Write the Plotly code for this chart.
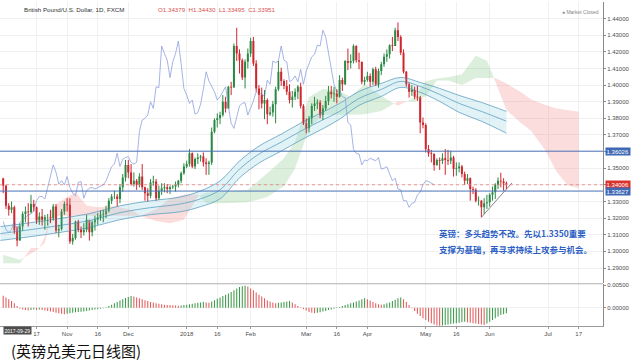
import pandas as pd
import plotly.graph_objects as go

# ---------------- data ----------------
START = "2017-09-29"          # first visible daily bar (weekday index 0)
first_open = 1.3438

closes = [1.3395, 1.3275, 1.3250, 1.3265, 1.3125, 1.3065, 1.3150, 1.3225, 1.3240, 1.3235,
          1.3285, 1.3265, 1.3185, 1.3210, 1.3190, 1.3205, 1.3205, 1.3200, 1.3270, 1.3125,
          1.3135, 1.3240, 1.3285, 1.3280, 1.3060, 1.3080, 1.3180, 1.3130, 1.3115, 1.3130,
          1.3190, 1.3115, 1.3175, 1.3190, 1.3205, 1.3220, 1.3225, 1.3245, 1.3305, 1.3330,
          1.3330, 1.3315, 1.3385, 1.3445, 1.3520, 1.3475, 1.3405, 1.3425, 1.3400, 1.3450,
          1.3385, 1.3350, 1.3335, 1.3415, 1.3420, 1.3320, 1.3365, 1.3380, 1.3385, 1.3375,
          1.3385, 1.3390, 1.3400, 1.3425, 1.3470, 1.3510, 1.3525, 1.3590, 1.3510, 1.3555,
          1.3565, 1.3570, 1.3535, 1.3525, 1.3535, 1.3720, 1.3790, 1.3800, 1.3820, 1.3900,
          1.3860, 1.3990, 1.3985, 1.4235, 1.4190, 1.4150, 1.4045, 1.4140, 1.4190, 1.4265,
          1.4130, 1.3980, 1.3940, 1.3890, 1.3910, 1.3825, 1.3835, 1.3885, 1.3975, 1.4080,
          1.4025, 1.3995, 1.3960, 1.3910, 1.3930, 1.3960, 1.3990, 1.3875, 1.3770, 1.3740,
          1.3800, 1.3875, 1.3890, 1.3895, 1.3820, 1.3860, 1.3905, 1.3960, 1.3945, 1.3950,
          1.3930, 1.4030, 1.4005, 1.4145, 1.4135, 1.4145, 1.4235, 1.4150, 1.4140, 1.4020,
          1.4030, 1.4055, 1.4020, 1.4095, 1.4005, 1.4085, 1.4125, 1.4170, 1.4185, 1.4240,
          1.4235, 1.4330, 1.4290, 1.4195, 1.4080, 1.4005, 1.3960, 1.3970, 1.3930, 1.3925,
          1.3775, 1.3760, 1.3615, 1.3590, 1.3585, 1.3520, 1.3550, 1.3545, 1.3560, 1.3550,
          1.3545, 1.3565, 1.3495, 1.3500, 1.3510, 1.3465, 1.3425, 1.3440, 1.3375, 1.3370,
          1.3305, 1.3305, 1.3265, 1.3290, 1.3295, 1.3340, 1.3355, 1.3400, 1.3425, 1.3420,
          1.3410, 1.3401]
highs = [1.3443, 1.3400, 1.3290, 1.3300, 1.3275, 1.3150, 1.3165, 1.3240, 1.3270, 1.3290,
         1.3340, 1.3310, 1.3270, 1.3235, 1.3255, 1.3220, 1.3225, 1.3250, 1.3285, 1.3285,
         1.3160, 1.3255, 1.3300, 1.3320, 1.3320, 1.3105, 1.3185, 1.3190, 1.3150, 1.3170,
         1.3220, 1.3170, 1.3185, 1.3215, 1.3230, 1.3245, 1.3250, 1.3275, 1.3320, 1.3345,
         1.3365, 1.3345, 1.3405, 1.3465, 1.3550, 1.3550, 1.3525, 1.3475, 1.3435, 1.3470,
         1.3525, 1.3390, 1.3380, 1.3435, 1.3455, 1.3435, 1.3395, 1.3410, 1.3410, 1.3405,
         1.3395, 1.3400, 1.3420, 1.3430, 1.3480, 1.3530, 1.3545, 1.3615, 1.3595, 1.3565,
         1.3590, 1.3580, 1.3595, 1.3560, 1.3545, 1.3745, 1.3800, 1.3830, 1.3840, 1.3940,
         1.3930, 1.3995, 1.4020, 1.4250, 1.4345, 1.4215, 1.4160, 1.4155, 1.4220, 1.4285,
         1.4290, 1.4150, 1.4000, 1.3985, 1.3970, 1.3920, 1.3870, 1.3905, 1.3990, 1.4145,
         1.4105, 1.4035, 1.4030, 1.4005, 1.3965, 1.3980, 1.4000, 1.4015, 1.3885, 1.3800,
         1.3815, 1.3890, 1.3930, 1.3915, 1.3910, 1.3880, 1.3935, 1.3995, 1.3995, 1.3990,
         1.3975, 1.4060, 1.4045, 1.4150, 1.4220, 1.4185, 1.4245, 1.4240, 1.4195, 1.4140,
         1.4050, 1.4080, 1.4070, 1.4105, 1.4110, 1.4100, 1.4140, 1.4190, 1.4215, 1.4245,
         1.4290, 1.4345, 1.4377, 1.4300, 1.4215, 1.4085, 1.4015, 1.4000, 1.3990, 1.3995,
         1.3935, 1.3805, 1.3770, 1.3640, 1.3610, 1.3590, 1.3560, 1.3565, 1.3590, 1.3615,
         1.3610, 1.3605, 1.3575, 1.3535, 1.3535, 1.3520, 1.3480, 1.3465, 1.3445, 1.3390,
         1.3380, 1.3330, 1.3310, 1.3320, 1.3340, 1.3350, 1.3390, 1.3410, 1.3445, 1.3473,
         1.3440, 1.3420]
lows = [1.3350, 1.3255, 1.3215, 1.3230, 1.3105, 1.3030, 1.3065, 1.3125, 1.3175, 1.3150,
        1.3230, 1.3240, 1.3165, 1.3160, 1.3155, 1.3130, 1.3155, 1.3170, 1.3185, 1.3110,
        1.3085, 1.3125, 1.3220, 1.3240, 1.3045, 1.3040, 1.3070, 1.3115, 1.3080, 1.3095,
        1.3115, 1.3065, 1.3090, 1.3125, 1.3160, 1.3185, 1.3175, 1.3200, 1.3235, 1.3285,
        1.3315, 1.3270, 1.3290, 1.3360, 1.3420, 1.3440, 1.3395, 1.3390, 1.3370, 1.3385,
        1.3370, 1.3305, 1.3300, 1.3320, 1.3395, 1.3305, 1.3310, 1.3340, 1.3355, 1.3350,
        1.3345, 1.3375, 1.3360, 1.3385, 1.3410, 1.3460, 1.3500, 1.3510, 1.3500, 1.3495,
        1.3525, 1.3540, 1.3510, 1.3460, 1.3460, 1.3520, 1.3710, 1.3745, 1.3765, 1.3810,
        1.3835, 1.3860, 1.3940, 1.3985, 1.4145, 1.4070, 1.4030, 1.3980, 1.4100, 1.4170,
        1.4115, 1.3960, 1.3855, 1.3860, 1.3795, 1.3765, 1.3815, 1.3810, 1.3770, 1.3965,
        1.3995, 1.3975, 1.3940, 1.3890, 1.3865, 1.3910, 1.3915, 1.3860, 1.3760, 1.3710,
        1.3715, 1.3765, 1.3845, 1.3855, 1.3800, 1.3790, 1.3845, 1.3880, 1.3920, 1.3900,
        1.3890, 1.3925, 1.3965, 1.4000, 1.4090, 1.4100, 1.4130, 1.4135, 1.4095, 1.4005,
        1.4000, 1.4020, 1.3990, 1.4000, 1.3995, 1.3985, 1.4060, 1.4110, 1.4140, 1.4160,
        1.4205, 1.4235, 1.4265, 1.4180, 1.4070, 1.3990, 1.3925, 1.3935, 1.3915, 1.3905,
        1.3710, 1.3740, 1.3595, 1.3570, 1.3535, 1.3485, 1.3515, 1.3490, 1.3525, 1.3460,
        1.3520, 1.3525, 1.3450, 1.3455, 1.3475, 1.3445, 1.3400, 1.3405, 1.3305, 1.3345,
        1.3295, 1.3275, 1.3205, 1.3225, 1.3255, 1.3270, 1.3305, 1.3315, 1.3375, 1.3385,
        1.3365, 1.3375]

macd_hist = [0.0027, 0.0023, 0.0019, 0.0015, 0.0010,
             0.0004, -0.0002, -0.0004, -0.0005, -0.0006, -0.0005, -0.0004,
             -0.0005, -0.0004, -0.0005, -0.0006,
             -0.0007, -0.0008, -0.0009, -0.0011, -0.0012, -0.0013, -0.0014,
             -0.0013, -0.0012, -0.0011, -0.0010, -0.0009, -0.00085, -0.0008, -0.0007, -0.0006, -0.0005, -0.0004,
             -0.0003, -0.0002, -0.0001, 0.0001,
             0.0004, 0.0007, 0.0010, 0.0013, 0.0016, 0.0019, 0.0022, 0.0024, 0.0026,
             0.0025, 0.0023, 0.0021, 0.0019, 0.0017, 0.0015, 0.0013, 0.0012, 0.0010, 0.0009, 0.0008, 0.0007,
             0.00065, 0.0006, 0.00055, 0.0005, 0.00045,
             0.0005, 0.0006, 0.0007, 0.0008, 0.0009, 0.0010, 0.0011, 0.0012, 0.0013, 0.0012, 0.0011,
             0.0014, 0.0017, 0.0020, 0.0023, 0.0026, 0.0029, 0.0032, 0.0035, 0.0039, 0.0043, 0.0046, 0.0048, 0.0049,
             0.0047, 0.0043, 0.0039, 0.0034, 0.0029, 0.0025, 0.0021,
             0.0017, 0.0014, 0.0012, 0.0010,
             0.0011, 0.0012, 0.0013, 0.0014, 0.0015,
             0.0012, 0.0008, 0.0004, 0.0001,
             -0.0003, -0.0006, -0.0009, -0.0011, -0.0012,
             -0.0011, -0.0010, -0.0008, -0.0007, -0.0005, -0.0004, -0.0002,
             0.0001, 0.0002,
             0.0004, 0.0006, 0.0008, 0.0010, 0.0012, 0.0014, 0.0016, 0.0019, 0.0021,
             0.0019, 0.0016, 0.0013, 0.0010,
             0.0008, 0.0007, 0.0008,
             0.0010, 0.0012, 0.0015, 0.0018, 0.0021, 0.0023,
             0.0019, 0.0013, 0.0006,
             -0.0001, -0.0007,
             -0.0013, -0.0018, -0.0023, -0.0027, -0.0031, -0.0034, -0.0037, -0.0039, -0.0040,
             -0.0039, -0.0038, -0.0037, -0.0036, -0.0035, -0.0034, -0.0033, -0.0032, -0.0031,
             -0.0032, -0.0033, -0.0034, -0.0035, -0.0036, -0.0037, -0.0038,
             -0.0035, -0.0031, -0.0027, -0.0023, -0.0019, -0.0016, -0.0014, -0.0012]

# Ichimoku cloud (leading spans, plotted bar index)
cloud_t = [0, 6, 10, 13, 15, 17, 20, 26, 30, 34, 40, 46, 50, 55, 60, 65, 70, 73, 80, 88,
           95, 101, 105, 110, 115, 120, 125, 130, 136, 142, 148, 152, 156, 160, 165, 170, 174, 177, 181, 186,
           190, 195, 199, 203, 207]
span_a = [1.2980, 1.2949, 1.2985, 1.3020, 1.3089, 1.3246, 1.3295, 1.3356, 1.3276, 1.3265,
          1.3272, 1.3250, 1.3210, 1.3182, 1.3169, 1.3190, 1.3329, 1.3352, 1.3360, 1.3370,
          1.3470, 1.3560, 1.3660, 1.3928, 1.3977, 1.3970, 1.3930, 1.4006, 1.3935, 1.3876,
          1.3926, 1.4023, 1.4040, 1.4048, 1.4066, 1.4176, 1.4146, 1.4024, 1.3850, 1.3776,
          1.3723, 1.3608, 1.3481, 1.3398, 1.3379]
span_b = [1.2928, 1.2928, 1.3020, 1.3020, 1.3052, 1.3195, 1.3215, 1.3215, 1.3215, 1.3215,
          1.3215, 1.3215, 1.3215, 1.3254, 1.3318, 1.3342, 1.3342, 1.3289, 1.3289, 1.3295,
          1.3327, 1.3392, 1.3500, 1.3735, 1.3822, 1.3822, 1.3822, 1.3825, 1.3845, 1.3902,
          1.3902, 1.3933, 1.4028, 1.4028, 1.4000, 1.4043, 1.4043, 1.4043, 1.4010, 1.3960,
          1.3913, 1.3880, 1.3860, 1.3850, 1.3840]

# moving-average ribbon (upper / middle / lower)
ma_t = [-1, 10, 20, 31, 42, 53, 64, 71, 78, 85, 92, 100, 107, 114, 121, 128, 136, 143, 150, 157, 164, 172, 181]
ma_top = [1.3149, 1.3173, 1.3197, 1.3227, 1.3274, 1.3304, 1.3328, 1.3364, 1.3424, 1.3543, 1.3633, 1.3705,
          1.3771, 1.3830, 1.3890, 1.3962, 1.4010, 1.4046, 1.4016, 1.3980, 1.3938, 1.3896, 1.3842]
ma_mid = [1.3107, 1.3131, 1.3155, 1.3185, 1.3233, 1.3263, 1.3286, 1.3316, 1.3370, 1.3495, 1.3585, 1.3657,
          1.3723, 1.3783, 1.3842, 1.3920, 1.3974, 1.4022, 1.3992, 1.3944, 1.3890, 1.3842, 1.3783]
ma_bot = [1.3066, 1.3089, 1.3113, 1.3143, 1.3191, 1.3221, 1.3239, 1.3269, 1.3316, 1.3442, 1.3531, 1.3603,
          1.3669, 1.3729, 1.3795, 1.3878, 1.3932, 1.3986, 1.3956, 1.3902, 1.3836, 1.3783, 1.3711]

chikou_shift = 26
trend_t = [172, 183]
trend_p = [1.3205, 1.3412]

blue_levels = [1.36026, 1.33627]
last_price = 1.34006

price_ticks = [1.29, 1.30, 1.31, 1.32, 1.33, 1.34, 1.35, 1.36, 1.37, 1.38, 1.39, 1.40, 1.41, 1.42, 1.43, 1.44]
macd_ticks = [0.0, 0.005]
tick_dates = ["2017-10-17", "2017-11-01", "2017-11-16", "2017-12-01", "2018-01-01", "2018-01-16",
              "2018-02-01", "2018-03-01", "2018-03-16", "2018-04-02", "2018-05-01", "2018-05-16",
              "2018-06-01", "2018-07-02", "2018-07-17"]
tick_labels = ["17", "Nov", "16", "Dec", "2018", "16", "Feb", "Mar", "16", "Apr", "May", "16",
               "Jun", "Jul", "17"]

title_text = "British Pound/U.S. Dollar, 1D, FXCM"
header_ohlc = "O1.34379  H1.34430  L1.33495  C1.33951"
cursor_date = "2017-09-29"
note_lines = ["英镑：多头趋势不改。先以1.3350重要", "支撑为基础，再寻求持续上攻参与机会。"]
caption = "(英镑兑美元日线图)"

# ---------------- styling / geometry ----------------
W, H = 641, 363
PR, PB = 38, 37
PLOT_W, PLOT_H = W - PR, H - PB
MAIN_BOTTOM_PX, MACD_TOP_PX = 283, 284
UP, DOWN = "#2b8a44", "#d0262f"
H_UP, H_DOWN = "#3d9a4a", "#e35b5b"
CJK = "Noto Sans CJK SC"
LAT = "Liberation Sans"

n = len(closes)
idx = list(range(n))
opens = [first_open] + closes[:-1]
bdays = pd.bdate_range(START, periods=260)
tick_x = [int(bdays.get_loc(pd.Timestamp(d))) for d in tick_dates]

fig = go.Figure()

# ---- Ichimoku cloud fills ----
def cloud_runs(t, a, b):
    pts = []
    for k in range(len(t)):
        if k > 0:
            d0, d1 = a[k - 1] - b[k - 1], a[k] - b[k]
            if d0 * d1 < 0:
                f = d0 / (d0 - d1)
                tc = t[k - 1] + f * (t[k] - t[k - 1])
                yc = a[k - 1] + f * (a[k] - a[k - 1])
                pts.append((tc, yc, yc, 0))
        pts.append((t[k], a[k], b[k], 1 if a[k] >= b[k] else -1))
    runs, cur, sign = [], [], None
    for p in pts:
        if p[3] == 0:
            cur.append(p)
            runs.append((sign, cur))
            cur, sign = [p], None
        else:
            if sign is None:
                sign = p[3]
            cur.append(p)
    runs.append((sign, cur))
    return runs

for sign, run in cloud_runs(cloud_t, span_a, span_b):
    if len(run) < 2:
        continue
    xs = [p[0] for p in run] + [p[0] for p in reversed(run)]
    ys = [p[1] for p in run] + [p[2] for p in reversed(run)]
    fig.add_trace(go.Scatter(x=xs, y=ys, fill="toself", mode="lines", line=dict(width=0),
                             fillcolor="rgba(95,180,95,0.22)" if sign == 1 else "rgba(245,120,120,0.25)",
                             hoverinfo="skip", showlegend=False, xaxis="x", yaxis="y"))

# ---- MA ribbon ----
fig.add_trace(go.Scatter(x=ma_t, y=ma_top, mode="lines", line=dict(color="#5f9fc2", width=0.8, shape="spline"),
                         showlegend=False, xaxis="x", yaxis="y"))
fig.add_trace(go.Scatter(x=ma_t, y=ma_bot, mode="lines", line=dict(color="#5f9fc2", width=0.8, shape="spline"),
                         fill="tonexty", fillcolor="rgba(160,215,230,0.30)", showlegend=False, xaxis="x", yaxis="y"))
fig.add_trace(go.Scatter(x=ma_t, y=ma_mid, mode="lines", line=dict(color="#5f9fc2", width=0.8, shape="spline"),
                         showlegend=False, xaxis="x", yaxis="y"))

# ---- lagging span ----
fig.add_trace(go.Scatter(x=idx[:n - chikou_shift], y=closes[chikou_shift:], mode="lines",
                         line=dict(color="#8fa0e0", width=0.8), showlegend=False, xaxis="x", yaxis="y"))

# ---- horizontal levels ----
for lv in blue_levels:
    fig.add_shape(type="line", xref="paper", x0=0, x1=1, yref="y", y0=lv, y1=lv,
                  line=dict(color="#4a72b8", width=1))
fig.add_shape(type="line", xref="paper", x0=0, x1=1, yref="y", y0=last_price, y1=last_price,
              line=dict(color="#e88080", width=0.8, dash="dot"))

# ---- candles ----
for is_up, col in ((True, UP), (False, DOWN)):
    sel = [i for i in idx if (closes[i] >= opens[i]) == is_up]
    wx, wy = [], []
    for i in sel:
        wx += [i, i, None]
        wy += [lows[i], highs[i], None]
    fig.add_trace(go.Scatter(x=wx, y=wy, mode="lines", line=dict(color=col, width=1),
                             showlegend=False, hoverinfo="skip", xaxis="x", yaxis="y"))
    fig.add_trace(go.Bar(x=sel, base=[min(opens[i], closes[i]) for i in sel],
                         y=[max(abs(closes[i] - opens[i]), 0.00008) for i in sel],
                         width=0.72, marker=dict(color=col, line=dict(width=0)),
                         showlegend=False, xaxis="x", yaxis="y"))

# ---- trend line ----
fig.add_trace(go.Scatter(x=trend_t, y=trend_p, mode="lines", line=dict(color="#666666", width=0.8),
                         showlegend=False, xaxis="x", yaxis="y"))

# ---- MACD histogram ----
hcol = [H_DOWN] + [H_UP if macd_hist[i] >= macd_hist[i - 1] else H_DOWN for i in range(1, n)]
fig.add_trace(go.Bar(x=idx, y=macd_hist, width=0.38, marker=dict(color=hcol, line=dict(width=0)),
                     showlegend=False, xaxis="x", yaxis="y2"))

# ---------------- layout ----------------
main_dom = [(PLOT_H - MAIN_BOTTOM_PX) / PLOT_H, 1.0]
macd_dom = [0.0, (PLOT_H - MACD_TOP_PX) / PLOT_H]
px_per_unit = 1673.0
y_top = 1.44 + 16.7 / px_per_unit
y_bot = 1.44 - (MAIN_BOTTOM_PX - 16.7) / px_per_unit
m_scale = 0.005 / 22.7
x_px0, x_step = 3.2, 2.78

axis_font = dict(family=LAT, size=6, color="#4d4d4d")
fig.update_layout(
    width=W, height=H, margin=dict(l=0, r=PR, t=0, b=PB),
    paper_bgcolor="white", plot_bgcolor="white", barmode="overlay", showlegend=False,
    hovermode=False, dragmode=False,
    xaxis=dict(domain=[0, 1], anchor="y2", range=[-x_px0 / x_step, (PLOT_W - x_px0) / x_step],
               tickvals=tick_x, ticktext=tick_labels, tickfont=axis_font, showgrid=True,
               gridcolor="#f0f0f0", gridwidth=1, zeroline=False, showline=True, linecolor="#9a9a9a",
               linewidth=1, ticks="outside", ticklen=2, tickcolor="#9a9a9a"),
    yaxis=dict(domain=main_dom, anchor="x", side="right", range=[y_bot, y_top],
               tickvals=price_ticks, ticktext=[f"{v:.5f}" for v in price_ticks], tickfont=axis_font,
               showgrid=True, gridcolor="#f0f0f0", zeroline=False, showline=True, linecolor="#8a8a8a",
               linewidth=1, ticks="outside", ticklen=2, tickcolor="#8a8a8a"),
    yaxis2=dict(domain=macd_dom, anchor="x", side="right",
                range=[-(PLOT_H - 307.7) * m_scale, 0.005 + (285 - MACD_TOP_PX) * m_scale],
                tickvals=macd_ticks, ticktext=[f"{v:.5f}" for v in macd_ticks], tickfont=axis_font,
                showgrid=True, gridcolor="#f0f0f0", zeroline=False, showline=True, linecolor="#8a8a8a",
                linewidth=1, ticks="outside", ticklen=2, tickcolor="#8a8a8a"),
)

# pane separator
fig.add_shape(type="line", xref="paper", yref="paper", x0=0, x1=1,
              y0=(PLOT_H - MAIN_BOTTOM_PX - 0.5) / PLOT_H, y1=(PLOT_H - MAIN_BOTTOM_PX - 0.5) / PLOT_H,
              line=dict(color="#b0b0b0", width=1))

def py(px):
    return (PLOT_H - px) / PLOT_H

def pxr(px):
    return px / PLOT_W

ann = []
# axis value boxes
for lv, bg in ((blue_levels[0], "#3f69b5"), (last_price, "#d9332f"), (blue_levels[1], "#3f69b5")):
    ann.append(dict(x=1, xref="paper", y=lv, yref="y", xanchor="left", yanchor="middle", xshift=2,
                    text=f"{lv:.5f}", showarrow=False, bgcolor=bg, borderpad=0.6,
                    font=dict(family=LAT, size=6, color="white")))
# header
ann.append(dict(x=pxr(22), xref="paper", y=py(8), yref="paper", xanchor="left", yanchor="middle",
                text=title_text, showarrow=False, font=dict(family=LAT, size=6.2, color="#333333")))
ann.append(dict(x=pxr(156), xref="paper", y=py(8), yref="paper", xanchor="left", yanchor="middle",
                text=header_ohlc, showarrow=False, font=dict(family=LAT, size=6.2, color="#d9534f")))
ann.append(dict(x=pxr(601), xref="paper", y=py(10), yref="paper", xanchor="right", yanchor="middle",
                text="● Market Closed", showarrow=False, font=dict(family=LAT, size=5, color="#888888")))
# cursor date box
ann.append(dict(x=pxr(17), xref="paper", y=py(331), yref="paper", xanchor="center", yanchor="middle",
                text=cursor_date, showarrow=False, bgcolor="#4d4d4d", borderpad=0.5,
                font=dict(family=LAT, size=5, color="white")))
# note text
for k, line in enumerate(note_lines):
    ann.append(dict(x=(437 - x_px0) / x_step, xref="x", y=1.44 - (232 + 16.5 * k - 16.7) / px_per_unit,
                    yref="y", xanchor="left", yanchor="middle", text=f"<b>{line}</b>", showarrow=False,
                    font=dict(family=CJK, size=8.5, color="#2d5fc4")))
# caption
ann.append(dict(x=pxr(9), xref="paper", y=py(351), yref="paper", xanchor="left", yanchor="middle",
                text=caption, showarrow=False, font=dict(family=CJK, size=15, color="#111111")))
fig.update_layout(annotations=ann)

fig.write_html("out.html", config={"displayModeBar": False, "staticPlot": True},
               post_script="document.body.style.margin='0';document.body.style.padding='0';")
